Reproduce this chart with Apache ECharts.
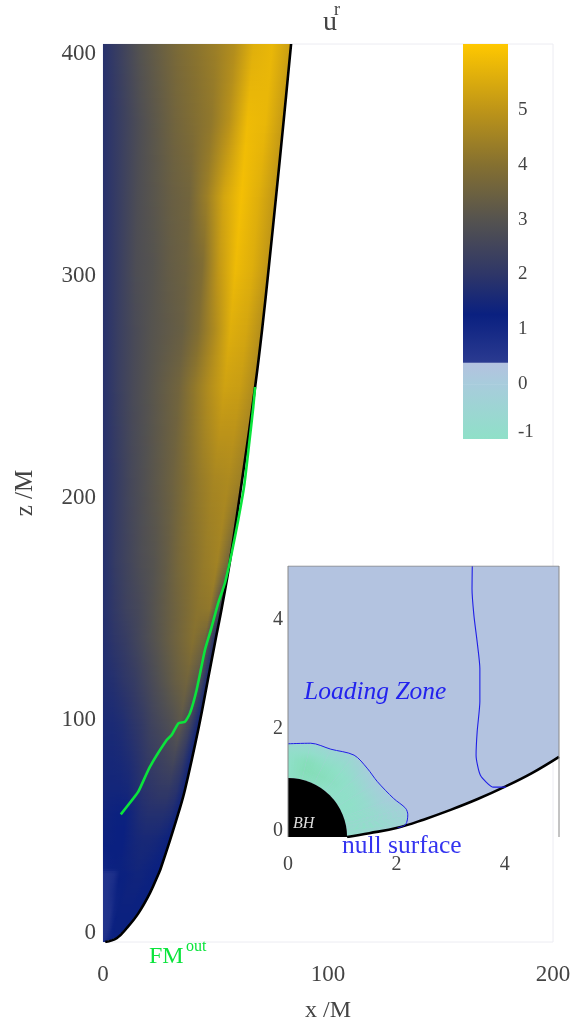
<!DOCTYPE html>
<html><head><meta charset="utf-8">
<style>html,body{margin:0;padding:0;background:#fff}#c{width:586px;height:1023px}</style>
<script src="https://cdn.jsdelivr.net/npm/echarts@6/dist/echarts.min.js"></script>
</head><body><div id="c"></div>
<script>
// colour scale
const scaleValues=[-1.3,-1,0,0.4,0.4,1.27,2,3,4,5,6.2];
const scaleColors=['#82DDB4','#8FE0C8','#A8CCDC','#B4C2E0','#2A3A90','#0A2080','#2E3668','#55534F','#857030','#BE9518','#FFC800'];
const barTicks=[-1,0,1,2,3,4,5];

// main panel: rows in z, outer edge of the flow in x, u^r across the row at fractions of that edge
const zRows=[0,1.7,6.2,12.9,22.1,31,33,45.9,58,68.5,97,118,136,150,170.7,208,250,275.7,305,335.6,370,404.5];
const xEdge=[1,6.1,10.5,15.7,20.9,24.8,25.6,29.8,33.5,36.4,42.6,46.6,50,52.7,56.3,61.8,67.6,70.7,73.8,76.9,80.3,83.6];
const uGrid=[
[.6,.7,.8,.9,1,1.1,1.2,1.2,1.3,1.3,1.3],
[.6,.7,.8,.9,1,1.1,1.2,1.2,1.3,1.3,1.3],
[.6,.65,.7,.9,1.2,1.3,1.3,1.3,1.3,1.3,1.3],
[.6,.65,.7,1.1,1.3,1.3,1.3,1.3,1.3,1.3,1.3],
[.6,.65,.9,1.2,1.3,1.35,1.35,1.35,1.3,1.3,1.3],
[.6,.65,.8,1.3,1.3,1.35,1.4,1.4,1.35,1.3,1.25],
[1.1,1.2,1.25,1.3,1.35,1.4,1.45,1.4,1.35,1.3,1.25],
[1.3,1.3,1.27,1.27,1.4,1.5,1.55,1.55,1.5,1.4,1.3],
[1.4,1.35,1.3,1.3,1.5,1.7,1.8,1.8,1.8,1.7,1.4],
[1.5,1.45,1.45,1.5,1.7,1.9,2,2.1,2.1,1.9,1.4],
[1.6,1.6,1.7,1.9,2.1,2.4,2.6,2.8,3.1,2.4,1.4],
[1.7,1.8,2,2.2,2.5,2.8,3.1,3.4,3.6,3.1,1.6],
[1.75,2,2.2,2.5,2.8,3.1,3.4,3.7,4,3.6,1.7],
[1.8,2.1,2.4,2.6,2.9,3.2,3.5,3.8,4.1,4.2,2.2],
[1.8,2.2,2.5,2.8,3,3.3,3.7,4,4.3,4.5,3.5],
[1.85,2.2,2.6,2.9,3.2,3.5,3.9,4.3,4.6,4.7,4.4],
[1.85,2.3,2.7,3,3.3,3.6,4.2,4.8,5.3,5.2,4.7],
[1.85,2.3,2.7,3,3.2,3.4,3.9,4.7,5.6,5.4,4.8],
[1.85,2.3,2.8,3,3.3,3.5,3.9,5.1,5.9,5.6,5],
[1.85,2.3,2.8,3.1,3.4,3.6,4.4,5.4,6,5.6,5],
[1.85,2.3,2.8,3.2,3.6,3.9,4.2,4.9,5.9,5.8,5.1],
[1.85,2.4,3,3.4,3.8,4.1,4.4,4.8,5.6,5.8,5.2]];

// FM^out curve
const fmX=[7.9,13.5,15.7,20.9,28.3,30.5,33.5,36.4,38.7,41.6,45.3,47.9,51.2,54.2,57.2,60.1,62.7,65,66.8,67.6];
const fmZ=[57.5,64.7,67.7,79,91,93.2,98.5,99.2,103.2,113.5,131.5,140.5,152.7,161.7,175.2,190.1,205.1,224.8,241.1,250];

// inset
const bhRadius=1.09;
const insetEdgeX=[1.09,1.5,2.02,2.5,3,3.5,3.985,4.5,5];
const insetEdgeZ=[0,.07,.17,.32,.5,.7,.92,1.18,1.48];
const innerNullX=[0,.42,.79,1.22,1.46,1.65,1.95,2.17,2.21,2.17,2.02];
const innerNullZ=[1.72,1.73,1.62,1.51,1.27,1.02,.71,.53,.41,.23,.17];
const outerNullX=[3.4,3.395,3.43,3.49,3.54,3.54,3.49,3.47,3.55,3.79,4.02];
const outerNullZ=[5,4.58,4.09,3.6,3.11,2.5,1.94,1.51,1.14,.92,.92];
const loadingZoneU=0.38;
const insetGrid=[
[-1,-1,-1,-.9,-.5],
[-1.15,-1.25,-1.2,-.9,-.5],
[-1.1,-1.2,-1.1,-.8,-.4],
[-1,-1.1,-1,-.7,-.3],
[-1,-1,-.9,-.5,-.1],
[-1,-1,-.8,-.4,0],
[-1,-.95,-.7,-.3,0],
[-1,-.9,-.7,-.4,-.2],
[-1,-.95,-.75,-.5,-.3],
[-1,-1,-.85,-.6,-.4],
[-1,-1,-.9,-.7,-.5],
[-1,-1,-1,-.9,-.8],
[-1,-1,-1,-1,-1]];
const rayX=innerNullX.concat([1.5,1.09]);
const rayZ=innerNullZ.concat([.07,0]);

const serif='"Liberation Serif","Times New Roman",serif';
const grey='#444';
const hex=h=>[1,3,5].map(i=>parseInt(h.substr(i,2),16));
function colorOf(v){
  if(v<=scaleValues[0])return scaleColors[0];
  for(let i=1;i<scaleValues.length;i++){
    if(v<=scaleValues[i]&&scaleValues[i]>scaleValues[i-1]){
      const t=(v-scaleValues[i-1])/(scaleValues[i]-scaleValues[i-1]);
      const a=hex(scaleColors[i-1]),b=hex(scaleColors[i]);
      return 'rgb('+a.map((c,k)=>Math.round(c+(b[k]-c)*t)).join(',')+')';
    }
  }
  return scaleColors[scaleColors.length-1];
}
const LG=echarts.graphic.LinearGradient;
const SUB=6;

function renderMain(params,api){
  const i=api.value(0),children=[];
  const h=api.size([0,zRows[i+1]-zRows[i]])[1];
  const nSub=Math.max(2,Math.ceil(h/2.5));
  for(let s=0;s<nSub;s++){
    const t0=s/nSub,t1=(s+1)/nSub,tm=(t0+t1)/2;
    const z0=zRows[i]+(zRows[i+1]-zRows[i])*t0,z1=zRows[i]+(zRows[i+1]-zRows[i])*t1;
    const x0=xEdge[i]+(xEdge[i+1]-xEdge[i])*t0,x1=xEdge[i]+(xEdge[i+1]-xEdge[i])*t1;
    const a=api.coord([0,z0]),b=api.coord([x0,z0]),c=api.coord([x1,z1]),d=api.coord([0,z1]);
    c[1]-=1.2;d[1]-=1.2;
    const n=uGrid[i].length;
    const stops=uGrid[i].map((u,k)=>({offset:k/(n-1),color:colorOf(u+(uGrid[i+1][k]-u)*tm)}));
    const g=new LG(a[0],0,(b[0]+api.coord([x1,z1])[0])/2,0,stops,true);
    children.push({type:'polygon',shape:{points:[a,b,c,d]},style:{fill:g}});
  }
  return {type:'group',children};
}
function renderInsetField(params,api){
  const i=api.value(0),children=[];
  const n=insetGrid[i].length;
  const unit=(x,z)=>{const r=Math.hypot(x,z);return [x/r*bhRadius,z/r*bhRadius];};
  for(let s=0;s<SUB;s++){
    const t0=s/SUB,t1=(s+1)/SUB,tm=(t0+t1)/2,t2=Math.min(1,t1+.03);
    const ox0=rayX[i]+(rayX[i+1]-rayX[i])*t0,oz0=rayZ[i]+(rayZ[i+1]-rayZ[i])*t0;
    const ox1=rayX[i]+(rayX[i+1]-rayX[i])*t2,oz1=rayZ[i]+(rayZ[i+1]-rayZ[i])*t2;
    const a=api.coord(unit(ox0,oz0)),b=api.coord([ox0,oz0]),c=api.coord([ox1,oz1]),d=api.coord(unit(ox1,oz1));
    const stops=insetGrid[i].map((u,k)=>({offset:k/(n-1),color:colorOf(u+(insetGrid[i+1][k]-u)*tm)}));
    const g=new LG((a[0]+d[0])/2,(a[1]+d[1])/2,(b[0]+c[0])/2,(b[1]+c[1])/2,stops,true);
    children.push({type:'polygon',shape:{points:[a,b,c,d]},style:{fill:g}});
  }
  return {type:'group',children};
}
function renderZone(params,api){
  const pts=[[0,5],[5,5]];
  for(let i=insetEdgeX.length-1;i>=0;i--)pts.push([insetEdgeX[i],insetEdgeZ[i]]);
  pts.push([0,0]);
  return {type:'polygon',shape:{points:pts.map(p=>api.coord(p))},style:{fill:colorOf(loadingZoneU)}};
}
function renderBH(params,api){
  const c=api.coord([0,0]),r=api.size([bhRadius,bhRadius])[0];
  return {type:'sector',shape:{cx:c[0],cy:c[1],r0:0,r:r,startAngle:-Math.PI/2,endAngle:0,clockwise:true},style:{fill:'#000'}};
}
function renderBar(params,api){
  const i=api.value(0);
  const a=api.coord([0,scaleValues[i]]),b=api.coord([1,scaleValues[i+1]]);
  if(scaleValues[i+1]===scaleValues[i])return;
  return {type:'rect',shape:{x:a[0],y:b[1],width:b[0]-a[0],height:a[1]-b[1]+.6},
    style:{fill:new LG(0,a[1],0,b[1],[{offset:0,color:scaleColors[i]},{offset:1,color:scaleColors[i+1]}],true)}};
}
const zip=(x,y)=>x.map((v,i)=>[v,y[i]]);
const mainLabel={fontFamily:serif,fontSize:23,color:grey};
const insetLabel={fontFamily:serif,fontSize:20,color:grey};

const option={
  animation:false,backgroundColor:'#fff',
  title:{text:'u',left:318,top:4,textStyle:{fontFamily:serif,fontSize:28,fontWeight:'normal',color:grey}},
  grid:[
    {left:103,top:44,width:450,height:898,show:true,borderColor:'#ececf2',borderWidth:1,outerBoundsMode:'none'},
    {left:288,top:566,width:271,height:271,outerBoundsMode:'none'},
    {left:463,top:44,width:45,height:395,outerBoundsMode:'none'}
  ],
  xAxis:[
    {gridIndex:0,type:'value',min:0,max:200,interval:100,splitLine:{show:false},axisLine:{show:false},axisTick:{show:false},
     axisLabel:Object.assign({margin:21},mainLabel),
     name:'x /M',nameLocation:'middle',nameGap:57,nameTextStyle:{fontFamily:serif,fontSize:24,color:grey}},
    {gridIndex:1,type:'value',min:0,max:5,interval:2,splitLine:{show:false},axisLine:{show:false},axisTick:{show:false},
     axisLabel:Object.assign({margin:18,showMaxLabel:false},insetLabel)},
    {gridIndex:2,type:'value',min:0,max:1,show:false}
  ],
  yAxis:[
    {gridIndex:0,type:'value',min:0,max:404.5,interval:100,splitLine:{show:false},axisLine:{show:false},axisTick:{show:false},
     axisLabel:Object.assign({margin:7,showMaxLabel:false,verticalAlignMinLabel:'bottom',padding:[5,0,0,0],lineHeight:18},mainLabel),
     name:'z /M',nameLocation:'middle',nameGap:65,nameTextStyle:{fontFamily:serif,fontSize:25,color:grey}},
    {gridIndex:1,type:'value',min:0,max:5,interval:2,splitLine:{show:false},axisLine:{show:false},axisTick:{show:false},
     axisLabel:Object.assign({margin:5,showMaxLabel:false,verticalAlignMinLabel:'bottom',padding:[5,0,0,0],lineHeight:12},insetLabel)},
    {gridIndex:2,type:'value',position:'right',min:-1,max:6.2,interval:1,splitLine:{show:false},axisLine:{show:false},axisTick:{show:false},
     axisLabel:{margin:10,fontFamily:serif,fontSize:19,color:grey,showMaxLabel:false,verticalAlignMinLabel:'bottom',padding:[4,0,0,0],lineHeight:14,
       formatter:v=>barTicks.indexOf(v)>=0?String(v):''}}
  ],
  series:[
    {type:'custom',name:'u^r',xAxisIndex:0,yAxisIndex:0,coordinateSystem:'cartesian2d',renderItem:renderMain,clip:true,silent:true,
     data:zRows.slice(0,-1).map((z,i)=>[i,z]),encode:{x:[],y:1}},
    {type:'line',name:'edge',xAxisIndex:0,yAxisIndex:0,data:zip(xEdge,zRows),smooth:.4,showSymbol:false,silent:true,clip:true,z:3,
     lineStyle:{color:'#000',width:2.6}},
    {type:'line',name:'FMout',xAxisIndex:0,yAxisIndex:0,data:zip(fmX,fmZ),smooth:.2,showSymbol:false,silent:true,z:4,
     lineStyle:{color:'#0BE43C',width:2.6}},
    {type:'custom',name:'zone',xAxisIndex:1,yAxisIndex:1,coordinateSystem:'cartesian2d',renderItem:renderZone,data:[[0,0]],z:5,silent:true},
    {type:'custom',name:'inner',xAxisIndex:1,yAxisIndex:1,coordinateSystem:'cartesian2d',renderItem:renderInsetField,clip:true,silent:true,z:6,
     data:rayX.slice(0,-1).map((x,i)=>[i,0]),encode:{x:[],y:1}},
    {type:'custom',name:'BH',xAxisIndex:1,yAxisIndex:1,coordinateSystem:'cartesian2d',renderItem:renderBH,data:[[0,0]],z:7,silent:true},
    {type:'line',name:'inset edge',xAxisIndex:1,yAxisIndex:1,data:zip(insetEdgeX,insetEdgeZ),smooth:.4,showSymbol:false,silent:true,z:8,
     lineStyle:{color:'#000',width:2.6}},
    {type:'line',name:'null inner',xAxisIndex:1,yAxisIndex:1,data:zip(innerNullX,innerNullZ),smooth:.3,showSymbol:false,silent:true,z:9,
     lineStyle:{color:'#1F1FE6',width:1}},
    {type:'line',name:'null outer',xAxisIndex:1,yAxisIndex:1,data:zip(outerNullX,outerNullZ),smooth:.2,showSymbol:false,silent:true,z:9,
     lineStyle:{color:'#1F1FE6',width:1.1}},
    {type:'line',name:'frame',xAxisIndex:1,yAxisIndex:1,data:[[0,0],[0,5],[5,5],[5,0]],showSymbol:false,silent:true,z:9,
     lineStyle:{color:'#888',width:1}},
    {type:'custom',name:'colorbar',xAxisIndex:2,yAxisIndex:2,coordinateSystem:'cartesian2d',renderItem:renderBar,clip:true,silent:true,z:2,
     data:scaleValues.slice(0,-1).map((v,i)=>[i,v]),encode:{x:[],y:1}}
  ],
  graphic:[
    {type:'text',z:20,left:334,top:1,style:{text:'r',font:'18px '+serif,fill:grey}},
    {type:'text',z:20,left:304,top:679,style:{text:'Loading Zone',font:'italic 25.5px '+serif,fill:'#2222EE'}},
    {type:'text',z:20,left:342,top:833,style:{text:'null surface',font:'25.5px '+serif,fill:'#3434F0'}},
    {type:'text',z:20,left:293,top:816,style:{text:'BH',font:'italic 16px '+serif,fill:'#DDDDDD'}},
    {type:'text',z:20,left:149,top:945,style:{text:'FM',font:'24px '+serif,fill:'#0BE43C'}},
    {type:'text',z:20,left:186,top:939,style:{text:'out',font:'16px '+serif,fill:'#0BE43C'}}
  ]
};
echarts.init(document.getElementById('c'),null,{renderer:'canvas'}).setOption(option);
</script></body></html>
